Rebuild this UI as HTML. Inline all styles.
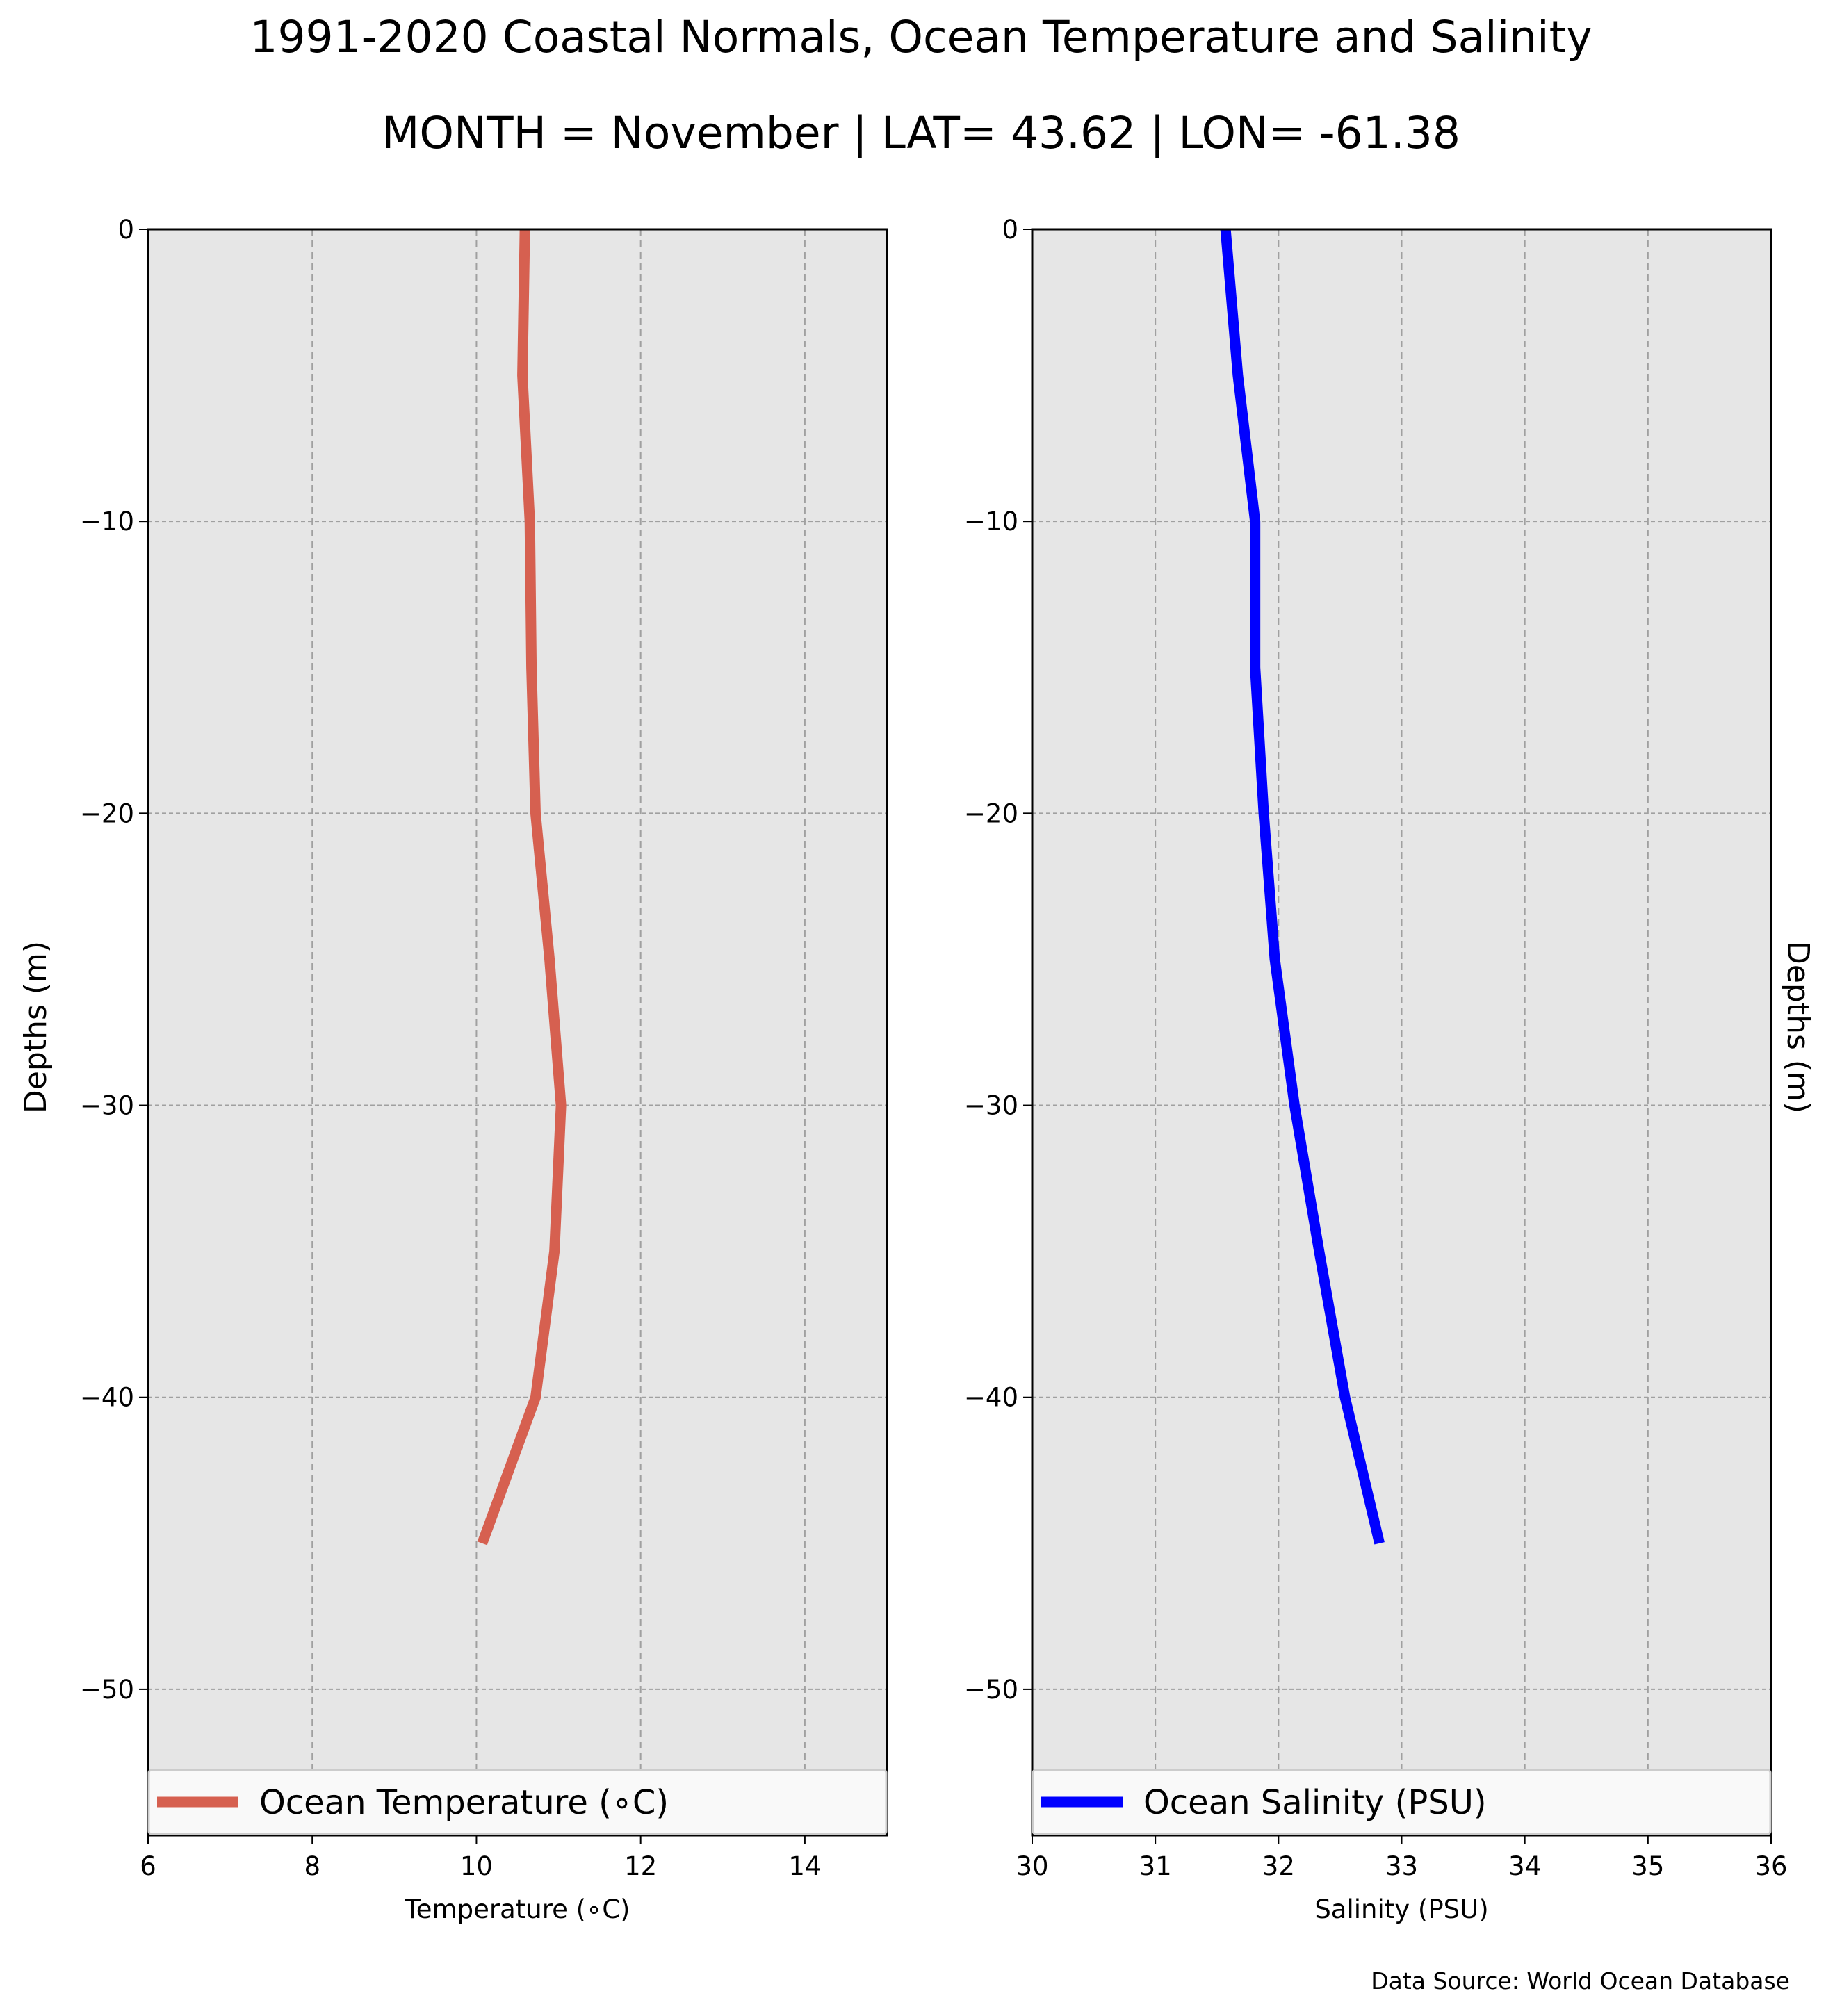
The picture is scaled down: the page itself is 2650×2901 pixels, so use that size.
<!DOCTYPE html>
<html><head><meta charset="utf-8"><style>
html,body{margin:0;padding:0;background:#fff;}
svg{display:block;font-family:"DejaVu Sans","Liberation Sans",sans-serif;}
</style></head><body>
<svg id="fig" width="2650" height="2901" viewBox="0 0 2650 2901" xmlns="http://www.w3.org/2000/svg">
<text x="1325" y="75" font-size="63" text-anchor="middle">1991-2020 Coastal Normals, Ocean Temperature and Salinity</text>
<text x="1325" y="213" font-size="63" text-anchor="middle">MONTH = November | LAT= 43.62 | LON= -61.38</text>
<g id="left"></g>
<g id="right"></g>
<text x="2575" y="2862" font-size="33" text-anchor="end">Data Source: World Ocean Database</text>
</svg>
<script>
const depths = [0,-5,-10,-15,-20,-25,-30,-35,-40,-45];
const tempValues = [10.59,10.56,10.65,10.67,10.72,10.89,11.03,10.95,10.72,10.07];
const salValues = [31.57,31.67,31.81,31.81,31.88,31.97,32.13,32.33,32.54,32.82];
const depthTicks = [0,-10,-20,-30,-40,-50];
const tempTicks = [6,8,10,12,14];
const salTicks = [30,31,32,33,34,35,36];

const NS="http://www.w3.org/2000/svg";
const yTop=330, yBot=2641;
const yS = d => yTop + (0 - d) / 55 * (yBot - yTop);
function mk(p, tag, attrs, txt){const e=document.createElementNS(NS,tag);for(const k in attrs)e.setAttribute(k,attrs[k]);if(txt!==undefined)e.textContent=txt;p.appendChild(e);return e;}

function panel(g, x0, x1, xmin, xmax, xticks, vals, color, legendText, xlabel, ylabelSide, pre){
  const xS = v => x0 + (v - xmin)/(xmax - xmin)*(x1 - x0);
  const bg = mk(g,'rect',{x:x0,y:yTop,width:x1-x0,height:yBot-yTop,fill:'#e6e6e6'});
  
  
  xticks.forEach(t=>{
    const gl = mk(g,'line',{x1:xS(t),x2:xS(t),y1:yTop,y2:yBot,stroke:'#a0a0a0','stroke-width':2,'stroke-dasharray':'10 6'});
    
    
    const tk = mk(g,'line',{x1:xS(t),x2:xS(t),y1:yBot,y2:yBot+13,stroke:'#000','stroke-width':2});
    
    
    const tl = mk(g,'text',{x:xS(t),y:yBot+57,'font-size':37,'text-anchor':'middle'},String(t));
    
    
  });
  depthTicks.forEach(t=>{
    const y=yS(t);
    const gl = mk(g,'line',{x1:x0,x2:x1,y1:y,y2:y,stroke:'#a0a0a0','stroke-width':2,'stroke-dasharray':'6 4'});
    
    
    const tk = mk(g,'line',{x1:x0-13,x2:x0,y1:y,y2:y,stroke:'#000','stroke-width':2});
    
    
    const tl = mk(g,'text',{x:x0-20,y:y+13,'font-size':37,'text-anchor':'end'},t<0?'\u2212'+(-t):String(t));
    
    
  });
  const pts = vals.map((v,i)=>xS(v)+','+yS(depths[i])).join(' ');
  const line = mk(g,'polyline',{points:pts,fill:'none',stroke:color,'stroke-width':15});
  
  
  const fr = mk(g,'rect',{x:x0,y:yTop,width:x1-x0,height:yBot-yTop,fill:'none',stroke:'#000','stroke-width':3});
  
  
  const lg = mk(g,'g',{});
  
  
  mk(lg,'rect',{x:x0+1,y:2547,width:x1-x0-2,height:92,fill:'#f9f9f9',stroke:'#cccccc','stroke-width':3,rx:4});
  mk(lg,'line',{x1:x0+13,x2:x0+130,y1:2593,y2:2593,stroke:color,'stroke-width':15});
  mk(lg,'text',{x:x0+160,y:2610,'font-size':48},legendText);
  const xl = mk(g,'text',{x:(x0+x1)/2,y:2760,'font-size':37,'text-anchor':'middle'},xlabel);
  
  
  let yl;
  if(ylabelSide==='left'){
    yl = mk(g,'text',{x:0,y:0,'font-size':44,'text-anchor':'middle',transform:'translate(66,1478) rotate(-90)'},'Depths (m)');
  } else {
    yl = mk(g,'text',{x:0,y:0,'font-size':44,'text-anchor':'middle',transform:'translate(2572,1478) rotate(90)'},'Depths (m)');
  }
  
  
}
panel(document.getElementById('left'),213,1276,6,15,tempTicks,tempValues,'#d66050','Ocean Temperature (\u2218C)','Temperature (\u2218C)','left','temperature');
panel(document.getElementById('right'),1485,2548,30,36,salTicks,salValues,'#0000ff','Ocean Salinity (PSU)','Salinity (PSU)','right','salinity');
</script>
</body></html>
